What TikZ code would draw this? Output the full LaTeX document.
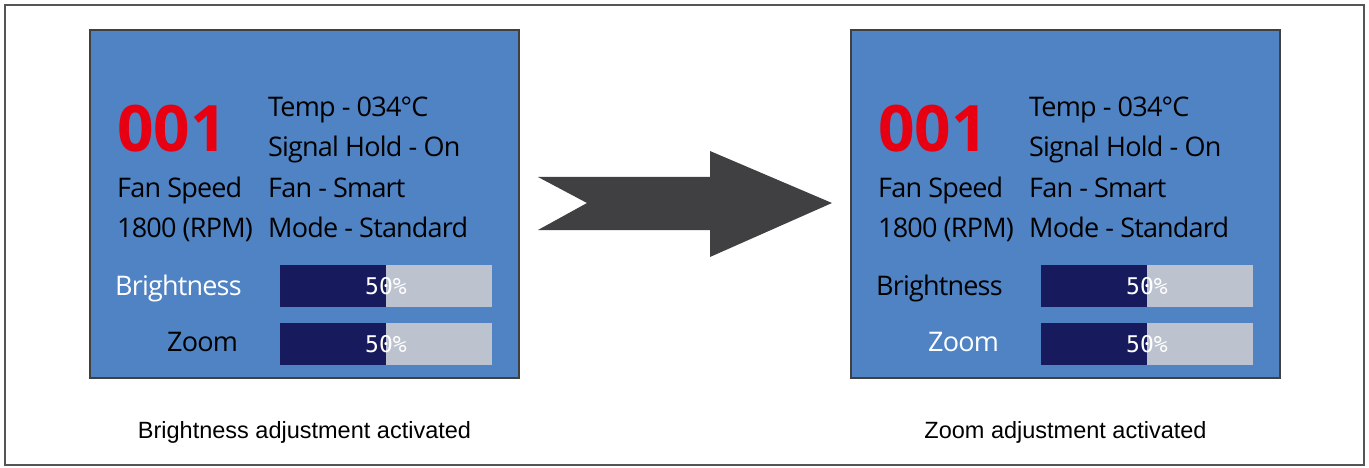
\documentclass[tikz,border=0pt]{standalone}
\usepackage{fontspec}
\setmainfont{Open Sans}
\newfontfamily\capfont{Liberation Sans}
\newfontfamily\barfont{DejaVu Sans Mono}
\newfontfamily\infofont[LetterSpace=-3]{Open Sans}
\usetikzlibrary{positioning}
\definecolor{panelblue}{HTML}{4F83C3}
\definecolor{paneledge}{HTML}{404040}
\definecolor{bardark}{HTML}{171B5E}
\definecolor{barlight}{HTML}{BCC2CE}
\definecolor{numred}{HTML}{E60012}
\definecolor{arrowgray}{HTML}{404042}
\definecolor{framegray}{HTML}{555555}

\begin{document}
\begin{tikzpicture}[x=1pt,y=-1pt,
  panel/.style={draw=paneledge,line width=2pt,fill=panelblue,inner sep=0pt,
    minimum width=429pt,minimum height=348pt},
  info/.style={anchor=base west,inner sep=0pt,font=\infofont\fontsize{27}{27}\selectfont},
  bignum/.style={anchor=base west,inner sep=0pt,text=numred,font=\bfseries\fontsize{64}{64}\selectfont},
  bar/.style={fill=barlight,inner sep=0pt,minimum width=212pt,minimum height=42pt},
  pct/.style={text=white,inner sep=0pt,font=\barfont\fontsize{23}{23}\selectfont},
  caption/.style={anchor=base,inner sep=0pt,font=\capfont\fontsize{23.5}{23.5}\selectfont}]
\useasboundingbox (0,0) rectangle (1369,468);
\draw[framegray,line width=2pt] (5,5) rectangle (1364,465);

% the two screens
\foreach \dx/\bcol/\zcol/\cap [count=\k] in
  {0/white/black/Brightness adjustment activated,
   761/black/white/Zoom adjustment activated}{
\begin{scope}[xshift=\dx]
\node[panel] (panel\k) at (304.5,204) {};
\node[bignum] (num\k) at (117,152) {001};
\node[info] (speed\k) at (117,197) {Fan Speed};
\node[info] (rpm\k) at (117,237) {1800 (RPM)};
\node[info] (temp\k) at (268,117) {Temp - 034°C};
\node[info] (hold\k) at (268,157) {Signal Hold - On};
\node[info] (fan\k) at (268,197) {Fan - Smart};
\node[info] (mode\k) at (268,237) {Mode - Standard};
\node[info,text=\bcol] (blabel\k) at (115,295) {Brightness};
\node[info,text=\zcol] (zlabel\k) at (167,351) {Zoom};
\node[bar] (bbar\k) at (386,286) {};
\fill[bardark] (bbar\k.north west) rectangle (bbar\k.south);
\node[pct] at (bbar\k) {50\%};
\node[bar] (zbar\k) at (386,344) {};
\fill[bardark] (zbar\k.north west) rectangle (zbar\k.south);
\node[pct] at (zbar\k) {50\%};
\node[caption] (cap\k) at (304.5,438) {\cap};
\end{scope}
}

% arrow between the screens
\fill[arrowgray] (538,177) -- (710,177) -- (710,151) -- (832,203)
  -- (710,257) -- (710,230) -- (538,230) -- (587,203) -- cycle;
\end{tikzpicture}
\end{document}
